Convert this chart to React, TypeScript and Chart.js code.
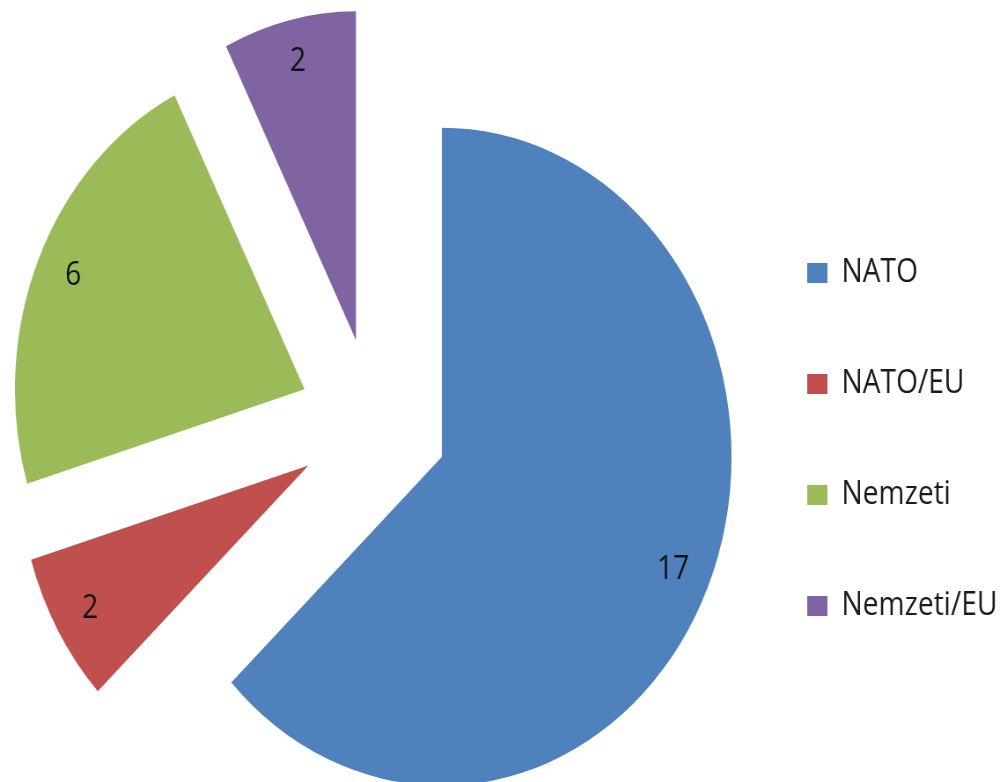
import React, { useEffect, useRef } from "react";
import { Chart, registerables } from "chart.js";

Chart.register(...registerables);

// ---- data ----
const categories: string[] = ["NATO", "NATO/EU", "Nemzeti", "Nemzeti/EU"];
const counts: number[] = [17, 2, 6, 2];
const sliceColors: string[] = ["#4F81BD", "#C0504D", "#9BBB59", "#8064A2"];

// ---- style / layout constants ----
const FONT = "'Open Sans', 'DejaVu Sans', sans-serif";
const CANVAS_W = 1144; // internal drawing width (the picture is horizontally compressed)
const CANVAS_H = 782;
const DISPLAY_W = 1007;
const PIE_RADIUS = 329;
const EXPLODE_PX = 85; // radial distance each slice is pulled out
const LABEL_FONT = 32;
const LEGEND_FONT = 32;
const LEGEND_PAD = 79;
const BOX_W = 23;
const BOX_H = 20;
const CENTER_X = 424;
const PAD_LEFT = 10;
const PAD_TOP = 64;

// exploded pie: move each slice radially outwards along its mid angle
const explodePlugin = {
  id: "explode",
  beforeDatasetDraw(chart: any, args: any) {
    const meta = args.meta;
    const ctrl = meta.controller;
    const area = chart.chartArea;
    const cx = (area.left + area.right) / 2 + (ctrl.offsetX || 0);
    const cy = (area.top + area.bottom) / 2 + (ctrl.offsetY || 0);
    meta.data.forEach((el: any) => {
      const mid = (el.startAngle + el.endAngle) / 2;
      el.x = cx + Math.cos(mid) * EXPLODE_PX;
      el.y = cy + Math.sin(mid) * EXPLODE_PX;
    });
  },
};

const sliceLabelsPlugin = {
  id: "sliceLabels",
  afterDatasetsDraw(chart: any) {
    const meta = chart.getDatasetMeta(0);
    const R = meta.controller.outerRadius;
    const ctx = chart.ctx;
    ctx.save();
    ctx.font = `${LABEL_FONT}px ${FONT}`;
    ctx.fillStyle = "#111";
    ctx.textAlign = "center";
    ctx.textBaseline = "middle";
    meta.data.forEach((el: any, i: number) => {
      const mid = (el.startAngle + el.endAngle) / 2;
      const d = R * 0.87;
      ctx.fillText(String(counts[i]), el.x + Math.cos(mid) * d, el.y + Math.sin(mid) * d);
    });
    ctx.restore();
  },
};

export default function App() {
  const canvasRef = useRef<HTMLCanvasElement | null>(null);

  useEffect(() => {
    const canvas = canvasRef.current;
    if (!canvas) return;

    const m = document.createElement("canvas").getContext("2d")!;
    m.font = `normal ${LEGEND_FONT}px ${FONT}`;
    const maxText = Math.max(...categories.map((c) => m.measureText(c).width));
    const legendWidth = LEGEND_PAD + BOX_W + LEGEND_FONT / 2 + maxText + 10;
    const padRight = Math.max(0, CANVAS_W - (2 * CENTER_X - PAD_LEFT) - legendWidth);

    const chart = new Chart(canvas, {
      type: "pie",
      data: {
        labels: categories,
        datasets: [
          {
            data: counts,
            backgroundColor: sliceColors,
            borderWidth: 0,
            radius: PIE_RADIUS,
          } as any,
        ],
      },
      options: {
        responsive: false,
        animation: false,
        events: [],
        layout: { padding: { left: PAD_LEFT, right: padRight, top: PAD_TOP, bottom: 0 } },
        plugins: {
          legend: {
            position: "right",
            title: { display: true, text: "", padding: 0, font: { size: 33, lineHeight: 1 } },
            labels: {
              boxWidth: BOX_W,
              boxHeight: BOX_H,
              padding: LEGEND_PAD,
              color: "#1a1a1a",
              font: { size: LEGEND_FONT, family: FONT },
            },
          },
          tooltip: { enabled: false },
        },
      } as any,
      plugins: [explodePlugin, sliceLabelsPlugin],
    });

    return () => chart.destroy();
  }, []);

  return (
    <div style={{ position: "absolute", left: 0, top: 0, width: DISPLAY_W, height: CANVAS_H, background: "#fff" }}>
      <canvas
        ref={canvasRef}
        width={CANVAS_W}
        height={CANVAS_H}
        style={{ display: "block", width: `${DISPLAY_W}px`, height: `${CANVAS_H}px` }}
      />
    </div>
  );
}
